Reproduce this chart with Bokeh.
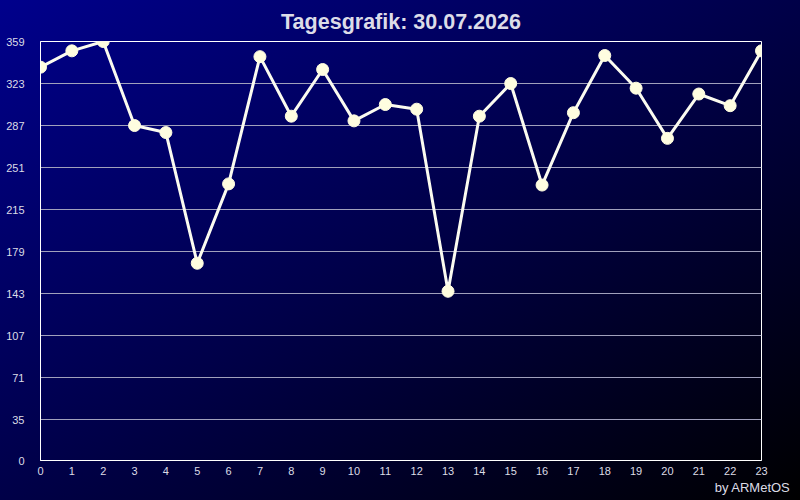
from bokeh.plotting import figure
from bokeh.models import Range1d, FixedTicker, Title
from bokeh.embed import file_html
from bokeh.resources import INLINE

title_text = "Tagesgrafik: 30.07.2026"
credit_text = "by ARMetOS"
hours = list(range(24))
values = [337, 351, 359, 287, 281, 169, 237, 346, 295, 335, 291, 305,
          301, 145, 295, 323, 236, 298, 347, 319, 276, 314, 304, 351]
y_ticks = [0, 35, 71, 107, 143, 179, 215, 251, 287, 323, 359]
x_ticks = list(range(24))

FONT = "Liberation Sans"
LABEL_COLOR = "#dcdce6"

p = figure(width=800, height=500, output_backend="svg", toolbar_location=None,
           x_range=Range1d(0, 23), y_range=Range1d(0, 359),
           min_border_left=40, min_border_right=39, min_border_top=40, min_border_bottom=40)

p.background_fill_alpha = 0
p.border_fill_alpha = 0
p.outline_line_color = "white"
p.outline_line_width = 1

p.title.text = title_text
p.title.align = "center"
p.title.text_color = "#dcdce8"
p.title.text_font = FONT
p.title.text_font_size = "21.5px"
p.title.text_font_style = "bold"
p.title.standoff = 15

for ax in (p.xaxis[0], p.yaxis[0]):
    ax.axis_line_color = "white"
    ax.axis_line_width = 1
    ax.major_tick_line_color = None
    ax.minor_tick_line_color = None
    ax.major_tick_out = 0
    ax.major_tick_in = 0
    ax.major_label_text_color = LABEL_COLOR
    ax.major_label_text_font = FONT
    ax.major_label_text_font_size = "11px"

p.xaxis[0].ticker = FixedTicker(ticks=x_ticks)
p.yaxis[0].ticker = FixedTicker(ticks=y_ticks)
p.xaxis[0].major_label_standoff = 6
p.yaxis[0].major_label_standoff = 16

p.xgrid.visible = False
p.ygrid[0].ticker = FixedTicker(ticks=y_ticks)
p.ygrid.grid_line_color = "#a0a0bc"
p.ygrid.grid_line_width = 1

p.line(hours, values, line_color="#fbfbf0", line_width=3)
p.scatter(hours, values, size=12, fill_color="#fffde0", line_color="#fffde0")

credit = Title(text=credit_text, align="right", offset=-29, text_color=LABEL_COLOR,
               text_font=FONT, text_font_size="13px", text_font_style="normal", standoff=0)
p.add_layout(credit, "below")

html = file_html(p, INLINE, title=title_text)
style = ("<style>html{min-height:100%;height:100%;"
         "background:linear-gradient(to bottom right,#00008c 0%,#000048 50%,#000000 100%);}"
         "body{background:transparent;}</style>")
html = html.replace("</head>", style + "</head>", 1)
open("out.html", "w").write(html)
